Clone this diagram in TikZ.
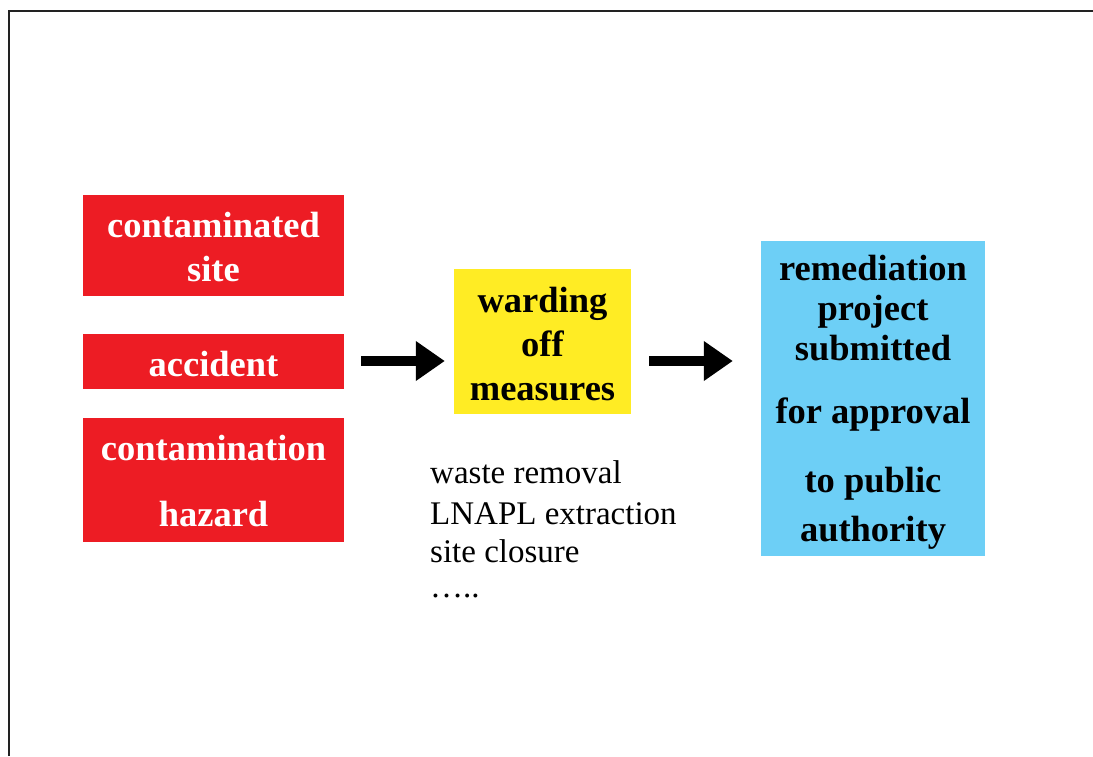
\documentclass[tikz,border=0pt]{standalone}
\usepackage{fontspec}
\setmainfont{Liberation Serif}
\usetikzlibrary{arrows.meta}
\definecolor{boxred}{HTML}{ED1C24}
\definecolor{boxyellow}{HTML}{FFEC24}
\definecolor{boxblue}{HTML}{6DCFF6}
\definecolor{framegray}{HTML}{222222}
\newcommand\boxlines[2][6pt]{\raisebox{-#1}[\height][\depth]{\begin{tabular}{@{}c@{}}#2\end{tabular}}}
\tikzset{
  box/.style={inner sep=0pt, font=\bfseries\fontsize{36.5}{44}\selectfont},
  redbox/.style={box, fill=boxred, text=white, minimum width=261pt},
  bigarrow/.style={line width=9.5pt, -{Triangle[length=29pt,width=38pt]}},
}
\begin{document}
\begin{tikzpicture}[x=1pt,y=-1pt]
\useasboundingbox (0,0) rectangle (1093,756);
\draw[framegray, line width=1.5pt] (9,756) -- (9,11) -- (1093,11);
\node[redbox, minimum height=101pt] (site) at (213.5,245.5) {\boxlines[5pt]{contaminated\\site}};
\node[redbox, minimum height=55pt] (acc) at (213.5,361.5) {\boxlines{accident}};
\node[redbox, minimum height=124pt] (haz) at (213.5,480) {\boxlines[5pt]{contamination\\[22pt]hazard}};
\node[box, fill=boxyellow, minimum width=177pt, minimum height=145pt] (ward) at (542.5,341.5) {\boxlines{warding\\off\\measures}};
\node[box, fill=boxblue, minimum width=224pt, minimum height=315pt, font=\bfseries\fontsize{36.5}{40}\selectfont] (appr) at (873,398.5) {\boxlines[4pt]{remediation\\project\\submitted\\[23pt]for approval\\[29pt]to public\\[9pt]authority}};
\node[anchor=base west, align=left, inner sep=0pt, font=\fontsize{33}{38}\selectfont] (list) at (430,597) {waste removal\\[3pt]LNAPL extraction\\site closure\\[-3pt]…..};
\draw[bigarrow, shorten <=17pt, shorten >=9pt] ([yshift=0.5pt]acc.east) -- ([yshift=0.5pt]acc.east -| ward.west);
\draw[bigarrow, shorten <=18pt, shorten >=28pt] ([yshift=0.5pt]acc.east -| ward.east) -- ([yshift=0.5pt]acc.east -| appr.west);
\end{tikzpicture}
\end{document}
